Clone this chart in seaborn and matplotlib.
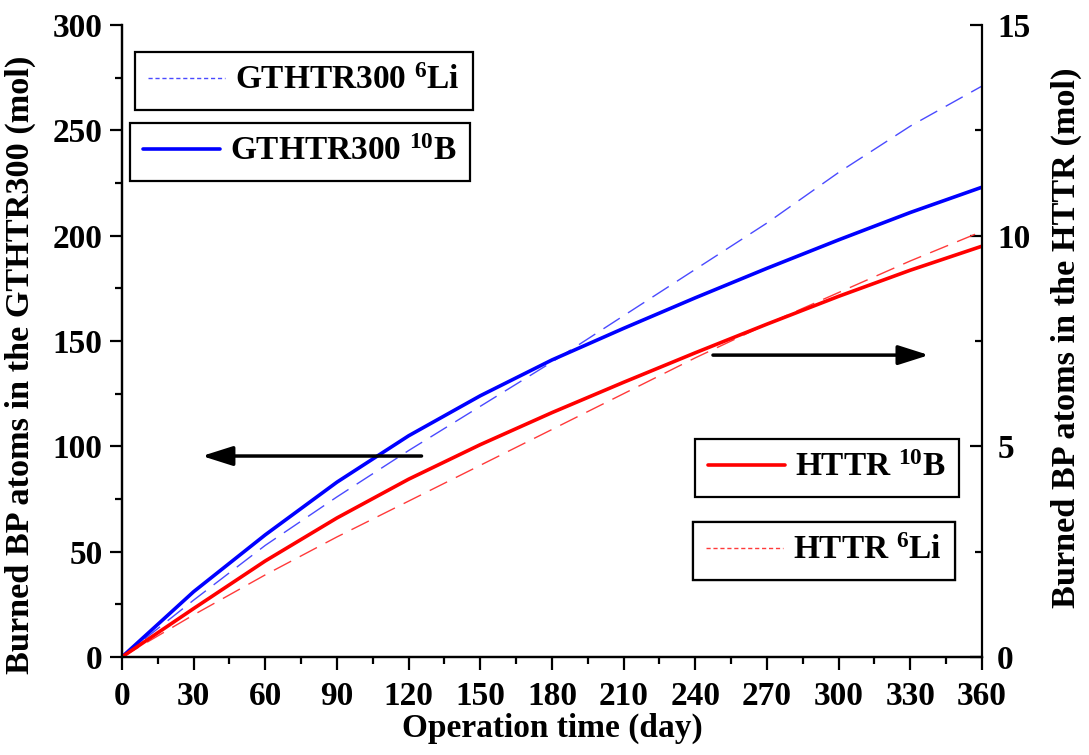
import matplotlib
matplotlib.use("Agg")
import matplotlib.pyplot as plt
from matplotlib.lines import Line2D
from matplotlib.ticker import MultipleLocator
import seaborn as sns

# operation time (day) and burned BP atoms (mol)
days = [0, 30, 60, 90, 120, 150, 180, 210, 240, 270, 300, 330, 360]
gthtr_b10 = [0, 31, 58, 83, 105, 124, 141, 156, 170.5, 184.5, 198, 211, 223]
gthtr_li6 = [0, 27, 53, 76, 98, 119, 140, 162, 184, 206, 230, 252, 271]
httr_b10 = [0, 1.15, 2.28, 3.3, 4.22, 5.04, 5.8, 6.52, 7.22, 7.9, 8.56, 9.18, 9.75]
httr_li6 = [0, 1.0, 1.95, 2.85, 3.7, 4.55, 5.4, 6.25, 7.1, 7.9, 8.65, 9.4, 10.1]

sns.set_style("ticks")
plt.rcParams["font.family"] = ["Liberation Serif", "DejaVu Serif"]
plt.rcParams["font.weight"] = "bold"
plt.rcParams["axes.labelweight"] = "bold"
plt.rcParams["text.color"] = "black"
plt.rcParams["axes.labelcolor"] = "black"
plt.rcParams["axes.edgecolor"] = "black"
plt.rcParams["xtick.color"] = "black"
plt.rcParams["ytick.color"] = "black"
plt.rcParams["mathtext.fontset"] = "custom"
plt.rcParams["mathtext.default"] = "bf"
plt.rcParams["mathtext.bf"] = "Liberation Serif:bold"
plt.rcParams["mathtext.rm"] = "Liberation Serif:bold"

fig = plt.figure(figsize=(10.89, 7.55), dpi=100)
ax = fig.add_axes([0.112, 0.1298, 0.7897, 0.8371])
ax2 = ax.twinx()

blue_dash = "#4a4aff"
red_dash = "#ff3a3a"

sns.lineplot(x=days, y=gthtr_li6, ax=ax, color=blue_dash, lw=1.0, ls=(0, (14, 7)))
sns.lineplot(x=days, y=gthtr_b10, ax=ax, color="#0000ff", lw=2.6)
sns.lineplot(x=days, y=httr_li6, ax=ax2, color=red_dash, lw=1.0, ls=(0, (14, 7)))
sns.lineplot(x=days, y=httr_b10, ax=ax2, color="#ff0000", lw=2.6)

ax.set_xlim(0, 360)
ax.set_ylim(0, 300)
ax2.set_ylim(0, 15)
ax.xaxis.set_major_locator(MultipleLocator(30))
ax.xaxis.set_minor_locator(MultipleLocator(15))
ax.yaxis.set_major_locator(MultipleLocator(50))
ax.yaxis.set_minor_locator(MultipleLocator(25))
ax2.yaxis.set_major_locator(MultipleLocator(5))
ax2.yaxis.set_minor_locator(MultipleLocator(2.5))

for a in (ax, ax2):
    a.spines["top"].set_visible(False)
    for s in a.spines.values():
        s.set_linewidth(1.6)
        s.set_color("black")
ax.spines["right"].set_visible(False)

ax.tick_params(axis="both", which="major", direction="out", length=9, width=1.6,
               labelsize=24, pad=5)
ax.tick_params(axis="both", which="minor", direction="out", length=5, width=1.6)
ax.tick_params(axis="x", which="major", pad=8)
ax2.tick_params(axis="y", which="major", direction="in", length=9, width=1.6,
                labelsize=24, pad=11)
ax2.tick_params(axis="y", which="minor", direction="in", length=5, width=1.6)

ax.set_xlabel("Operation time (day)", fontsize=24, labelpad=1)
ax.set_ylabel("Burned BP atoms in the GTHTR300 (mol)", fontsize=24.7)
ax2.set_ylabel("Burned BP atoms in the HTTR (mol)", fontsize=24.7)
ax.yaxis.set_label_coords(-0.1, 0.462)
ax2.yaxis.set_label_coords(1.08, 0.505)

# arrows pointing to the axis each pair belongs to
arrow = dict(arrowstyle="-|>,head_length=0.85,head_width=0.27", color="black",
             lw=2.5, mutation_scale=22, shrinkA=0, shrinkB=0)
ax.annotate("", xy=(33.5, 95.4), xytext=(125.4, 95.4), arrowprops=arrow)
ax.annotate("", xy=(337.8, 143.3), xytext=(247.4, 143.3), arrowprops=arrow)

# four separate boxed legends
entries = [
    (Line2D([], [], color=blue_dash, lw=1.0, ls=(0, (3, 2))), "GTHTR300 $^{6}$Li", (0.124, 0.931)),
    (Line2D([], [], color="#0000ff", lw=2.6), "GTHTR300 $^{10}$B", (0.1194, 0.837)),
    (Line2D([], [], color="#ff0000", lw=2.6), "HTTR $^{10}$B", (0.638, 0.4185)),
    (Line2D([], [], color=red_dash, lw=1.0, ls=(0, (3, 2))), "HTTR $^{6}$Li", (0.636, 0.3086)),
]
for h, lab, pos in entries:
    leg = ax2.legend(handles=[h], labels=[lab], loc="upper left", bbox_to_anchor=pos,
                     bbox_transform=fig.transFigure, fontsize=24, frameon=True,
                     fancybox=False, edgecolor="black", framealpha=1,
                     borderpad=0.4, handlelength=2.3, handletextpad=0.3,
                     borderaxespad=0)
    leg.get_frame().set_linewidth(1.6)
    ax2.add_artist(leg)

fig.savefig("out.png", dpi=100)
